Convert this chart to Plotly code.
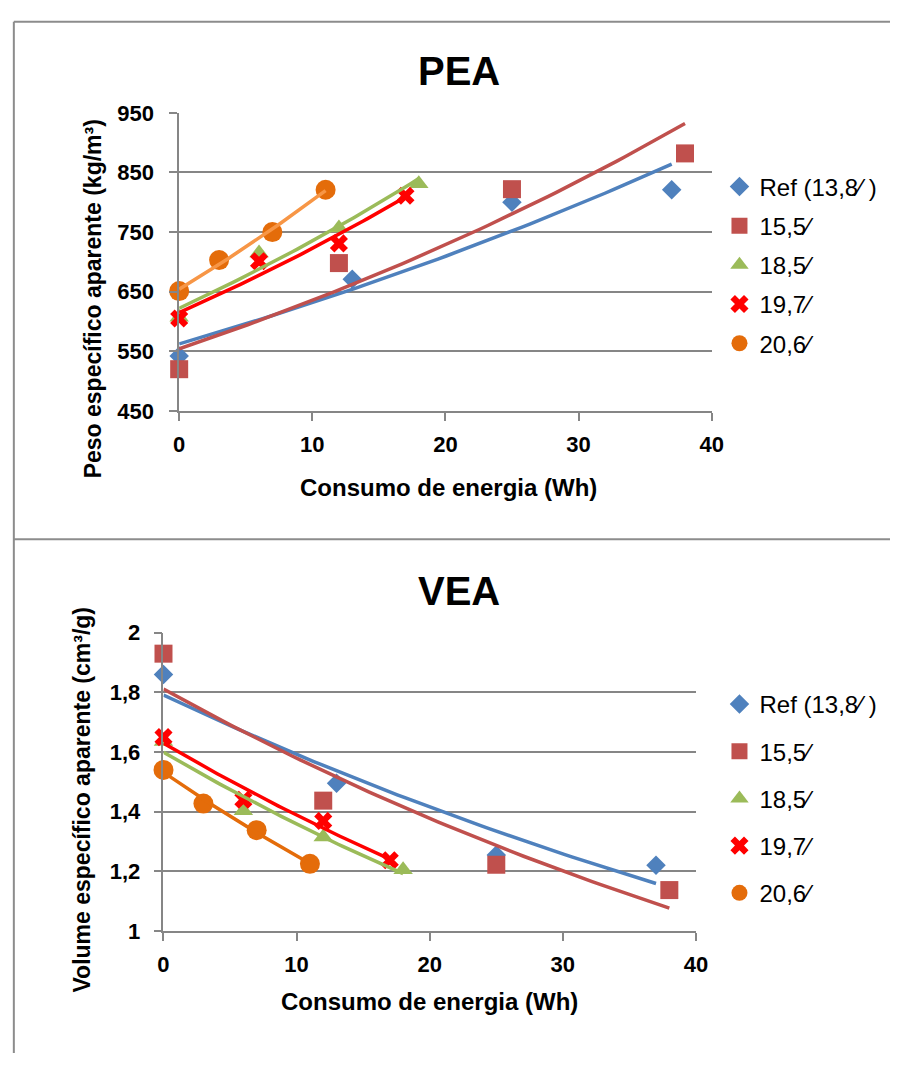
import numpy as np
import plotly.graph_objects as go

W, H = 902, 1066

# ---------------- data ----------------
series_names = ["Ref (13,8⁄ )", "15,5⁄", "18,5⁄", "19,7⁄", "20,6⁄"]

energy_ref = [0, 13, 25, 37]
energy_155 = [0, 12, 25, 38]
energy_185 = [0, 6, 12, 18]
energy_197 = [0, 6, 12, 17]
energy_206 = [0, 3, 7, 11]

pea_ref = [542, 671, 800, 821]
pea_155 = [520, 698, 822, 882]
pea_185 = [607, 715, 757, 831]
pea_197 = [605, 701, 731, 811]
pea_206 = [651, 703, 750, 821]

vea_ref = [1.86, 1.495, 1.255, 1.22]
vea_155 = [1.93, 1.437, 1.222, 1.137]
vea_185 = [1.635, 1.403, 1.315, 1.205]
vea_197 = [1.65, 1.44, 1.369, 1.237]
vea_206 = [1.54, 1.427, 1.338, 1.225]

x_ticks = [0, 10, 20, 30, 40]
pea_ticks = [450, 550, 650, 750, 850, 950]
vea_ticks = [1, 1.2, 1.4, 1.6, 1.8, 2]

# ---------------- styles ----------------
marker_colors = ["#4F81BD", "#C0504D", "#9BBB59", "#FF0000", "#E46C0A"]
line_colors_top = ["#4F81BD", "#C0504D", "#9BBB59", "#FF0000", "#F79646"]
line_colors_bot = ["#4F81BD", "#C0504D", "#9BBB59", "#FF0000", "#E46C0A"]
symbols = ["diamond", "square", "triangle-up", "x", "circle"]
sizes = [15, 18, 17, 16, 20]

FONT = "Liberation Sans, Arial, sans-serif"
GRID = "#868686"

energies = [energy_ref, energy_155, energy_185, energy_197, energy_206]
peas = [pea_ref, pea_155, pea_185, pea_197, pea_206]
veas = [vea_ref, vea_155, vea_185, vea_197, vea_206]


def exp_trend(x, y):
    x = np.asarray(x, float)
    y = np.asarray(y, float)
    b, ln_a = np.polyfit(x, np.log(y), 1)
    xs = np.linspace(x.min(), x.max(), 60)
    return xs, np.exp(ln_a) * np.exp(b * xs)


fig = go.Figure()

for ys_all, xa, ya, leg in [(peas, "x", "y", "legend"), (veas, "x2", "y2", "legend2")]:
    for i in range(5):
        fig.add_trace(go.Scatter(
            x=energies[i], y=ys_all[i], mode="markers", name=series_names[i],
            xaxis=xa, yaxis=ya, legend=leg, legendgroup=f"{leg}{i}",
            marker=dict(symbol=symbols[i], size=sizes[i], color=marker_colors[i], line=dict(width=0)),
            cliponaxis=False,
        ))

for ys_all, xa, ya, cols in [(peas, "x", "y", line_colors_top), (veas, "x2", "y2", line_colors_bot)]:
    for i in range(5):
        xs, ys = exp_trend(energies[i], ys_all[i])
        fig.add_trace(go.Scatter(
            x=xs, y=ys, mode="lines", showlegend=False, hoverinfo="skip",
            xaxis=xa, yaxis=ya, line=dict(color=cols[i], width=3.5),
            cliponaxis=False,
        ))

axis_common = dict(
    showline=True, linecolor=GRID, linewidth=1.5,
    ticks="outside", ticklen=8, tickcolor=GRID, tickwidth=1.5,
    zeroline=False, tickfont=dict(family=FONT, size=22, color="black", weight="bold"),
)

fig.update_layout(
    width=W, height=H, margin=dict(l=0, r=0, t=0, b=0),
    paper_bgcolor="white", plot_bgcolor="white",
    separators=",.",
    font=dict(family=FONT, color="black"),
    xaxis=dict(domain=[176.7 / W, 720 / W], range=[0, 40], tickvals=x_ticks, anchor="y",
               showgrid=False, ticklabelstandoff=5, **axis_common),
    yaxis=dict(domain=[1 - 408.5 / H, 1 - 103.3 / H], range=[450, 950], tickvals=pea_ticks, anchor="x",
               showgrid=True, gridcolor=GRID, gridwidth=1.5, ticklabelstandoff=11, **axis_common),
    xaxis2=dict(domain=[160.7 / W, 704 / W], range=[0, 40], tickvals=x_ticks, anchor="y2",
                showgrid=False, ticklabelstandoff=5, **axis_common),
    yaxis2=dict(domain=[1 - 941 / H, 1 - 635.7 / H], range=[1, 2], tickvals=vea_ticks, anchor="x2",
                showgrid=True, gridcolor=GRID, gridwidth=1.5, ticklabelstandoff=9, **axis_common),
    legend=dict(x=728 / W, y=1 - 156 / H, xanchor="left", yanchor="top",
                font=dict(family=FONT, size=24, color="black"),
                traceorder="grouped", tracegroupgap=5, bgcolor="rgba(0,0,0,0)"),
    legend2=dict(x=728 / W, y=1 - 686 / H, xanchor="left", yanchor="top",
                 font=dict(family=FONT, size=24, color="black"),
                 traceorder="grouped", tracegroupgap=13, bgcolor="rgba(0,0,0,0)"),
)


def ann(text, px, py, size, angle=0):
    return dict(text=text, x=px / W, y=1 - py / H, xref="paper", yref="paper",
                xanchor="center", yanchor="middle", showarrow=False, textangle=angle,
                font=dict(family=FONT, size=size, color="black", weight="bold"))


fig.update_layout(annotations=[
    ann("PEA", 462, 60, 40),
    ann("VEA", 462, 593, 40),
    ann("Consumo de energia (Wh)", 451, 487, 24),
    ann("Consumo de energia (Wh)", 432, 1013, 24),
    ann("Peso específico aparente (kg/m³)", 89, 294, 23, -90),
    ann("Volume específico aparente (cm³/g)", 78, 806, 23, -90),
])

frame = dict(color="#8C8C8C", width=2)
fig.update_layout(shapes=[
    dict(type="line", xref="paper", yref="paper", x0=8 / W, x1=1, y0=1 - 10 / H, y1=1 - 10 / H, line=frame),
    dict(type="line", xref="paper", yref="paper", x0=8 / W, x1=8 / W, y0=0, y1=1 - 10 / H, line=frame),
    dict(type="line", xref="paper", yref="paper", x0=8 / W, x1=1, y0=1 - 540 / H, y1=1 - 540 / H, line=frame),
])

fig.write_html(
    "out.html",
    config={"displayModeBar": False},
    post_script="document.body.style.margin='0';document.body.style.overflow='hidden';",
)
